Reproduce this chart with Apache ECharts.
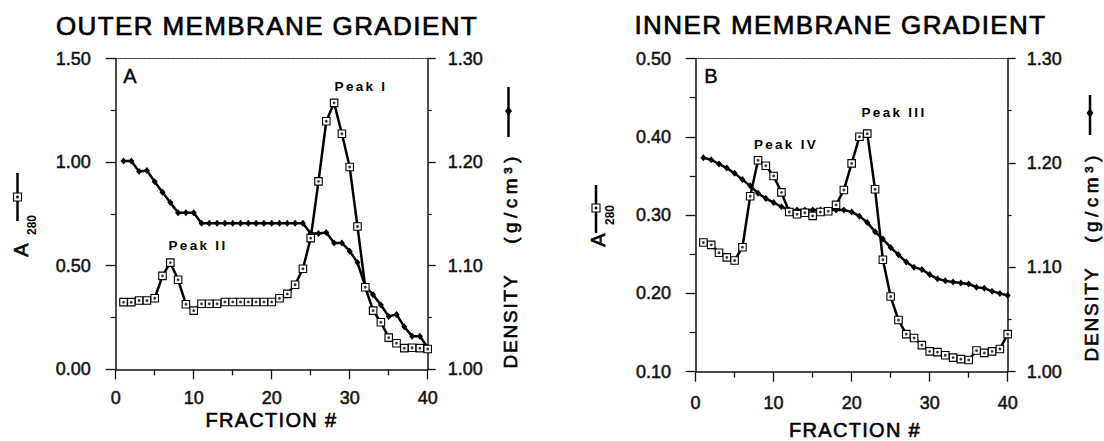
<!DOCTYPE html>
<html><head><meta charset="utf-8">
<script src="https://cdn.jsdelivr.net/npm/echarts@6/dist/echarts.min.js"></script>
<style>
html,body{margin:0;padding:0;background:#fff;}
#c{width:1104px;height:441px;}
text[style*="LsTitle"]{letter-spacing:1.4px;}
text[style*="LsName"]{letter-spacing:1.3px;}
text[style*="LsDens"]{letter-spacing:1.8px;}
text[style*="LsUnit"]{letter-spacing:4.5px;}
text[style*="LsPeak"]{letter-spacing:2.3px;}
</style></head><body><div id="c"></div><script>
// ---------- data ----------
const fractions = [1,2,3,4,5,6,7,8,9,10,11,12,13,14,15,16,17,18,19,20,21,22,23,24,25,26,27,28,29,30,31,32,33,34,35,36,37,38,39,40];
const fractionTicks = [0,10,20,30,40];
const outerA280 = [0.324,0.324,0.332,0.332,0.343,0.451,0.515,0.432,0.314,0.283,0.316,0.316,0.316,0.325,0.325,0.325,0.325,0.325,0.325,0.325,0.343,0.364,0.408,0.485,0.633,0.907,1.197,1.286,1.137,0.976,0.689,0.396,0.283,0.227,0.153,0.126,0.102,0.104,0.102,0.098];
const outerDensity = [1.201,1.201,1.191,1.192,1.181,1.171,1.161,1.151,1.151,1.151,1.141,1.141,1.141,1.141,1.141,1.141,1.141,1.141,1.141,1.141,1.141,1.141,1.141,1.141,1.131,1.131,1.132,1.122,1.122,1.114,1.103,1.080,1.072,1.062,1.051,1.053,1.041,1.032,1.032,1.021];
const innerA280 = [0.265,0.262,0.252,0.246,0.242,0.259,0.324,0.370,0.363,0.350,0.329,0.304,0.301,0.303,0.299,0.304,0.305,0.313,0.332,0.366,0.400,0.404,0.333,0.243,0.196,0.166,0.148,0.143,0.134,0.126,0.125,0.121,0.118,0.116,0.115,0.127,0.124,0.126,0.129,0.148];
const innerDensity = [1.205,1.203,1.199,1.195,1.190,1.184,1.178,1.171,1.166,1.162,1.158,1.155,1.155,1.155,1.155,1.155,1.155,1.155,1.155,1.153,1.149,1.143,1.134,1.127,1.119,1.112,1.105,1.100,1.098,1.093,1.089,1.087,1.086,1.085,1.084,1.081,1.080,1.077,1.075,1.073];
const outerA280Ticks = [0, 0.5, 1.0, 1.5];
const innerA280Ticks = [0.1, 0.2, 0.3, 0.4, 0.5];
const densityTicks = [1.0, 1.1, 1.2, 1.3];
const titles = ['OUTER MEMBRANE GRADIENT', 'INNER MEMBRANE GRADIENT'];
const panelLetters = ['A', 'B'];
const peakLabels = ['Peak I', 'Peak II', 'Peak III', 'Peak IV'];

// ---------- helpers ----------
const FONT = 'Liberation Sans, Arial, Helvetica, sans-serif';
const INK = '#111';
const pairs = (ys) => fractions.map((f, i) => [f, ys[i]]);
const fmt2 = (v) => (Math.round(v * 100) / 100).toFixed(2);

function xAxisBottom(gi, margin) {
  return {
    type: 'value', gridIndex: gi, position: 'bottom',
    min: fractionTicks[0], max: fractionTicks[fractionTicks.length - 1], interval: 10,
    axisLine: {show: true, onZero: false, lineStyle: {color: INK, width: 1.5}},
    axisTick: {show: true, length: 10, lineStyle: {color: INK, width: 1.3}},
    minorTick: {show: true, splitNumber: 2, length: 6, lineStyle: {color: INK, width: 1.3}},
    splitLine: {show: false}, minorSplitLine: {show: false},
    axisLabel: {margin: margin, fontFamily: FONT, fontSize: 18, color: INK, textBorderColor: INK, textBorderWidth: 0.5}
  };
}
function xAxisTop(gi) {
  return {
    type: 'value', gridIndex: gi, position: 'top', min: 0, max: 40,
    axisLine: {show: true, onZero: false, lineStyle: {color: '#333', width: 1.2, type: 'dotted'}},
    axisTick: {show: false}, axisLabel: {show: false}, splitLine: {show: false}
  };
}
function yAxis(gi, pos, ticks, margin, minorLen) {
  return {
    type: 'value', gridIndex: gi, position: pos,
    min: ticks[0], max: ticks[ticks.length - 1], interval: Math.round((ticks[1] - ticks[0]) * 100) / 100,
    axisLine: {show: true, onZero: false, lineStyle: {color: INK, width: 1.5}},
    axisTick: {show: true, length: pos === 'left' ? 10 : 8, lineStyle: {color: INK, width: 1.3}},
    minorTick: {show: true, splitNumber: 2, length: minorLen, lineStyle: {color: INK, width: 1.2}},
    splitLine: {show: false}, minorSplitLine: {show: false},
    axisLabel: {margin: margin, fontFamily: FONT, fontSize: 18, color: INK, formatter: fmt2, textBorderColor: INK, textBorderWidth: 0.5}
  };
}
function a280Series(xi, yi, ys) {
  return [{
    type: 'line', xAxisIndex: xi, yAxisIndex: yi, data: pairs(ys),
    symbol: 'rect', symbolSize: 7.5, showAllSymbol: true,
    itemStyle: {color: '#fff', borderColor: '#000', borderWidth: 1.1},
    lineStyle: {color: '#000', width: 2.5}, z: 3, silent: true
  }, {
    type: 'scatter', xAxisIndex: xi, yAxisIndex: yi, data: pairs(ys),
    symbol: 'circle', symbolSize: 2.8, itemStyle: {color: '#000'}, z: 4, silent: true
  }];
}
function densSeries(xi, yi, ys) {
  return {
    type: 'line', xAxisIndex: xi, yAxisIndex: yi, data: pairs(ys),
    symbol: 'diamond', symbolSize: [6, 7], showAllSymbol: true,
    itemStyle: {color: '#000'}, lineStyle: {color: '#000', width: 2.5}, z: 2, silent: true
  };
}
function txt(x, y, text, size, fam, weight, rot, border) {
  return {type: 'text', x: x, y: y, rotation: rot || 0, z: 20, silent: true,
    style: {text: text, fontSize: size, fontFamily: fam, fontWeight: weight || 'normal', fill: '#000',
      stroke: border ? '#000' : null, lineWidth: border || 0,
      textAlign: 'center', textVerticalAlign: 'middle'}};
}
function a280Key(x, yTop, yBot, ySq, aX, aY, subX, subY) {
  return [
    {type: 'line', z: 20, shape: {x1: x, y1: yTop, x2: x, y2: yBot}, style: {stroke: '#000', lineWidth: 2.5}},
    {type: 'rect', z: 21, shape: {x: x - 4, y: ySq - 4, width: 8, height: 8}, style: {fill: '#fff', stroke: '#000', lineWidth: 1.1}},
    {type: 'circle', z: 22, shape: {cx: x, cy: ySq, r: 1.4}, style: {fill: '#000'}},
    txt(aX, aY, 'A', 20, FONT, 'normal', Math.PI / 2, 0.6),
    txt(subX, subY, '280', 12, FONT, 'bold', Math.PI / 2)
  ];
}
function densKey(x, yTop, yBot, yD, dX, dY, uX, uY) {
  return [
    {type: 'line', z: 20, shape: {x1: x, y1: yTop, x2: x, y2: yBot}, style: {stroke: '#000', lineWidth: 2.5}},
    {type: 'polygon', z: 21, shape: {points: [[x, yD - 4.5], [x + 3.5, yD], [x, yD + 4.5], [x - 3.5, yD]]}, style: {fill: '#000'}},
    txt(dX, dY, 'DENSITY', 19, 'Liberation Sans, LsDens', 'normal', Math.PI / 2, 0.6),
    txt(uX, uY, '(g/cm³)', 19, 'Liberation Sans, LsUnit', 'normal', Math.PI / 2, 0.6)
  ];
}

const chart = echarts.init(document.getElementById('c'), null, {renderer: 'svg'});
const option = {
  animation: false,
  backgroundColor: '#fff',
  grid: [
    {left: 115.7, top: 58.5, width: 312, height: 310.8},
    {left: 695.6, top: 58.5, width: 312.1, height: 313.2}
  ],
  xAxis: [xAxisBottom(0, 20), xAxisTop(0), xAxisBottom(1, 22.4), xAxisTop(1)],
  yAxis: [
    yAxis(0, 'left', outerA280Ticks, 25, 5),
    yAxis(0, 'right', densityTicks, 20, 4),
    yAxis(1, 'left', innerA280Ticks, 24.5, 6),
    yAxis(1, 'right', densityTicks, 19, 4)
  ],
  series: [].concat(
    densSeries(0, 1, outerDensity), a280Series(0, 0, outerA280),
    densSeries(2, 3, innerDensity), a280Series(2, 2, innerA280)
  ),
  graphic: [].concat(
    [
      txt(267, 25.5, titles[0], 26, 'Liberation Sans, LsTitle', 'normal', 0, 0.7),
      txt(840.5, 25, titles[1], 26, 'Liberation Sans, LsTitle', 'normal', 0, 0.7),
      txt(271.4, 420, 'FRACTION #', 20, 'Liberation Sans, LsName', 'normal', 0, 0.6),
      txt(855, 429.5, 'FRACTION #', 20, 'Liberation Sans, LsName', 'normal', 0, 0.6),
      txt(130, 76, panelLetters[0], 20, FONT, 'normal', 0, 0.4),
      txt(711, 76, panelLetters[1], 20, FONT, 'normal', 0, 0.4),
      txt(361, 86, peakLabels[0], 13.5, 'Liberation Sans, LsPeak', 'bold'),
      txt(198, 245, peakLabels[1], 13.5, 'Liberation Sans, LsPeak', 'bold'),
      txt(894, 112.5, peakLabels[2], 13.5, 'Liberation Sans, LsPeak', 'bold'),
      txt(786, 144, peakLabels[3], 13.5, 'Liberation Sans, LsPeak', 'bold')
    ],
    a280Key(17.5, 173, 221, 197, 20.5, 250, 31.5, 225),
    a280Key(596, 185, 233, 208, 598, 240, 610, 215),
    densKey(508.5, 87, 137, 111, 510, 321, 510, 198),
    densKey(1090, 95, 135, 113, 1091, 314, 1091, 197)
  )
};
chart.setOption(option);
</script></body></html>
